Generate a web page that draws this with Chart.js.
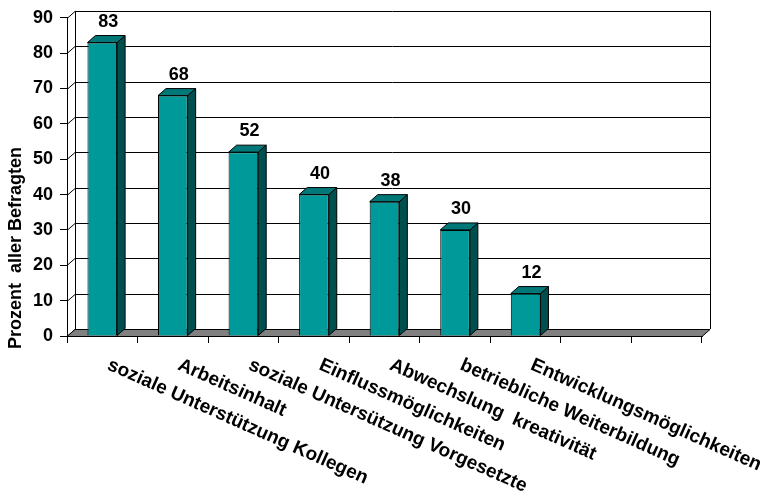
<!DOCTYPE html>
<html>
<head>
<meta charset="utf-8">
<script src="https://cdn.jsdelivr.net/npm/chart.js@4.4.1/dist/chart.umd.min.js"></script>
<style>
  html, body { margin: 0; padding: 0; background: #fff; }
  #wrap { width: 764px; height: 501px; position: relative; }
</style>
</head>
<body>
<div id="wrap"><canvas id="myChart"></canvas></div>
<script>
// categories (last two slots are empty in the original)
const categories = [
  'soziale Unterstützung Kollegen',
  'Arbeitsinhalt',
  'soziale Untersützung Vorgesetzte',
  'Einflussmöglichkeiten',
  'Abwechslung  kreativität',
  'betriebliche Weiterbildung',
  'Entwicklungsmöglichkeiten',
  '',
  ''
];
const values = [83, 68, 52, 40, 38, 30, 12, null, null];
const yTicks = [0, 10, 20, 30, 40, 50, 60, 70, 80, 90];
const yTitle = 'Prozent  aller Befragten';

const FONT = '"Liberation Sans", Arial, sans-serif';
const DX = 8, DY = -7; // depth of the 3d box

const depthPlugin = {
  id: 'depth',
  beforeDatasetsDraw(chart) {
    const ctx = chart.ctx;
    const { left, right, top, bottom } = chart.chartArea;
    const y = chart.scales.y;
    ctx.save();
    ctx.lineWidth = 1;
    ctx.strokeStyle = '#000';
    // back wall + left wall grid
    yTicks.forEach(t => {
      const py = Math.round(y.getPixelForValue(t)) + 0.5;
      ctx.beginPath();
      ctx.moveTo(left, py);
      ctx.lineTo(left + DX, py + DY);
      if (t > 0) ctx.lineTo(right + DX, py + DY);
      ctx.stroke();
    });
    ctx.beginPath();
    ctx.moveTo(left + DX + 0.5, top + DY);
    ctx.lineTo(left + DX + 0.5, bottom + DY);
    ctx.moveTo(right + DX + 0.5, top + DY);
    ctx.lineTo(right + DX + 0.5, bottom + DY);
    ctx.stroke();
    // floor
    ctx.beginPath();
    ctx.moveTo(left, bottom + 0.5);
    ctx.lineTo(left + DX, bottom + DY + 0.5);
    ctx.lineTo(right + DX, bottom + DY + 0.5);
    ctx.lineTo(right, bottom + 0.5);
    ctx.closePath();
    ctx.fillStyle = '#808080';
    ctx.fill();
    ctx.stroke();
    ctx.restore();
  },
  afterDatasetsDraw(chart) {
    const ctx = chart.ctx;
    const meta = chart.getDatasetMeta(0);
    ctx.save();
    ctx.lineWidth = 1;
    ctx.strokeStyle = '#000';
    meta.data.forEach((bar, i) => {
      if (values[i] == null) return;
      const l = bar.x - bar.width / 2, r = bar.x + bar.width / 2;
      const t = bar.y, b = bar.base;
      // side face
      ctx.beginPath();
      ctx.moveTo(r, b);
      ctx.lineTo(r + DX, b + DY);
      ctx.lineTo(r + DX, t + DY);
      ctx.lineTo(r, t);
      ctx.closePath();
      ctx.fillStyle = '#004f4f';
      ctx.fill();
      ctx.stroke();
      // top face
      ctx.beginPath();
      ctx.moveTo(l, t);
      ctx.lineTo(l + DX, t + DY);
      ctx.lineTo(r + DX, t + DY);
      ctx.lineTo(r, t);
      ctx.closePath();
      ctx.fillStyle = '#007878';
      ctx.fill();
      ctx.stroke();
      // value label
      ctx.fillStyle = '#000';
      ctx.font = 'bold 18px ' + FONT;
      ctx.textAlign = 'center';
      ctx.textBaseline = 'middle';
      ctx.fillText(String(values[i]), bar.x + 6, t - 21);
    });
    ctx.restore();
  },
  afterDraw(chart) {
    const ctx = chart.ctx;
    const x = chart.scales.x;
    const { bottom } = chart.chartArea;
    ctx.save();
    ctx.fillStyle = '#000';
    // rotated category labels
    ctx.font = 'bold 19px ' + FONT;
    ctx.textAlign = 'left';
    ctx.textBaseline = 'alphabetic';
    categories.forEach((c, i) => {
      if (!c) return;
      ctx.save();
      ctx.translate(x.getPixelForValue(i) + 4, bottom + 33);
      ctx.rotate(24 * Math.PI / 180);
      ctx.fillText(c, 0, 0);
      ctx.restore();
    });
    // y axis title
    ctx.font = 'bold 18px ' + FONT;
    ctx.textAlign = 'center';
    ctx.textBaseline = 'middle';
    ctx.translate(16, 248);
    ctx.rotate(-Math.PI / 2);
    ctx.fillText(yTitle, 0, 0);
    ctx.restore();
  }
};

new Chart(document.getElementById('myChart'), {
  type: 'bar',
  data: {
    labels: categories,
    datasets: [{
      data: values,
      backgroundColor: '#009999',
      borderColor: '#000',
      borderWidth: 1,
      categoryPercentage: 1,
      barPercentage: 0.42
    }]
  },
  options: {
    responsive: true,
    maintainAspectRatio: false,
    animation: false,
    layout: { padding: { top: 15, right: 62, left: 0, bottom: 0 } },
    plugins: { legend: { display: false }, tooltip: { enabled: false } },
    scales: {
      x: {
        offset: true,
        grid: { display: true, drawOnChartArea: false, offset: true, tickLength: 7, color: '#000' },
        border: { display: true, color: '#000' },
        ticks: { display: false },
        afterFit(scale) { scale.height = 165; }
      },
      y: {
        min: 0,
        max: 90,
        ticks: { stepSize: 10, color: '#000', padding: 7, font: { family: FONT, size: 18, weight: 'bold' } },
        grid: { display: true, drawOnChartArea: false, tickLength: 7, color: '#000' },
        border: { display: true, color: '#000' },
        afterFit(scale) { scale.width = 67; }
      }
    }
  },
  plugins: [depthPlugin]
});
</script>
</body>
</html>
